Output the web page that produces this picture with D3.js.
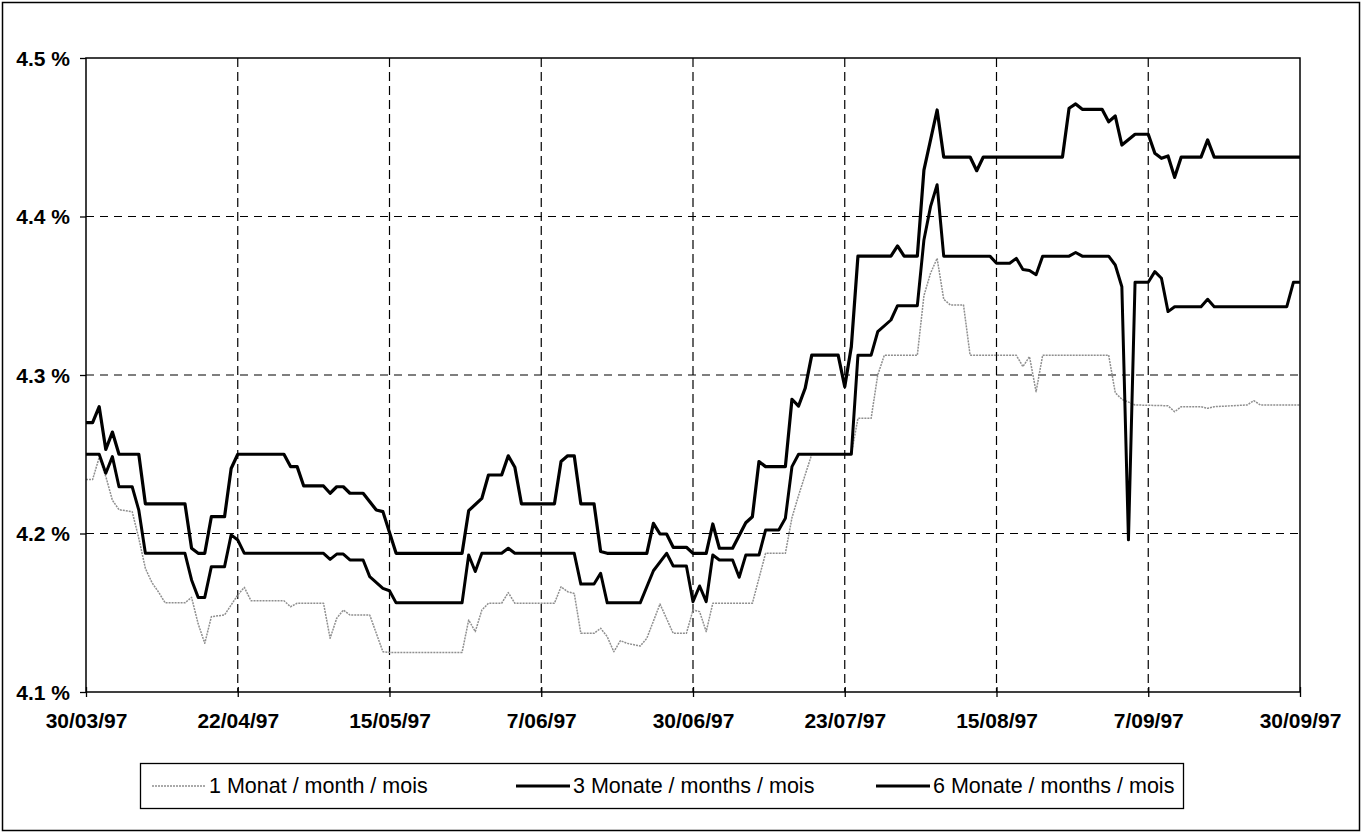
<!DOCTYPE html>
<html><head><meta charset="utf-8">
<script src="https://cdn.jsdelivr.net/npm/d3@7"></script>
<style>
body{margin:0;background:#fff}
text{font-family:"Liberation Sans",Arial,Helvetica,sans-serif;fill:#000}
</style>
</head><body>
<svg id="chart" width="1365" height="832"></svg>
<script>
// ---------- data ----------
const xTickLabels = ["30/03/97","22/04/97","15/05/97","7/06/97","30/06/97","23/07/97","15/08/97","7/09/97","30/09/97"];
const yTickValues = [4.1, 4.2, 4.3, 4.4, 4.5];
const seriesNames = ["1 Monat / month / mois", "3 Monate / months / mois", "6 Monate / months / mois"];

const oneMonth = [
["1997-03-30",4.234],["1997-03-31",4.234],["1997-04-01",4.248],["1997-04-02",4.236],["1997-04-03",4.221],
["1997-04-04",4.215],["1997-04-06",4.2138],["1997-04-07",4.197],["1997-04-08",4.178],["1997-04-09",4.169],
["1997-04-10",4.163],["1997-04-11",4.15625],["1997-04-14",4.15625],["1997-04-15",4.1597],["1997-04-16",4.143],
["1997-04-17",4.1307],["1997-04-18",4.1475],["1997-04-20",4.1486],["1997-04-21",4.1549],["1997-04-22",4.1612],
["1997-04-23",4.166],["1997-04-24",4.1576],["1997-04-29",4.1576],["1997-04-30",4.1538],["1997-05-01",4.156],
["1997-05-05",4.156],["1997-05-06",4.1339],["1997-05-07",4.1465],["1997-05-08",4.1517],["1997-05-09",4.1486],
["1997-05-12",4.1486],["1997-05-13",4.137],["1997-05-14",4.1254],["1997-05-15",4.125],["1997-05-26",4.125],
["1997-05-27",4.1454],["1997-05-28",4.1381],["1997-05-29",4.1517],["1997-05-30",4.156],["1997-06-01",4.156],
["1997-06-02",4.1627],["1997-06-03",4.156],["1997-06-09",4.156],["1997-06-10",4.1664],["1997-06-11",4.1633],
["1997-06-12",4.1622],["1997-06-13",4.137],["1997-06-15",4.137],["1997-06-16",4.1402],["1997-06-17",4.1349],
["1997-06-18",4.1254],["1997-06-19",4.1324],["1997-06-20",4.1307],["1997-06-22",4.129],["1997-06-23",4.1339],
["1997-06-25",4.1555],["1997-06-27",4.137],["1997-06-29",4.137],["1997-06-30",4.1517],["1997-07-01",4.1507],
["1997-07-02",4.1381],["1997-07-03",4.156],["1997-07-09",4.156],["1997-07-11",4.1875],["1997-07-14",4.1875],
["1997-07-15",4.21],["1997-07-16",4.224],["1997-07-18",4.25],["1997-07-24",4.25],["1997-07-25",4.2727],
["1997-07-27",4.2727],["1997-07-28",4.3],["1997-07-29",4.3125],["1997-08-03",4.3125],["1997-08-04",4.35],
["1997-08-05",4.3642],["1997-08-06",4.3736],["1997-08-07",4.3478],["1997-08-08",4.3442],["1997-08-10",4.3442],
["1997-08-11",4.3125],["1997-08-18",4.3125],["1997-08-19",4.3053],["1997-08-20",4.3116],["1997-08-21",4.2895],
["1997-08-22",4.3125],["1997-09-01",4.3125],["1997-09-02",4.2888],["1997-09-03",4.2847],["1997-09-05",4.2811],
["1997-09-10",4.2806],["1997-09-11",4.2768],["1997-09-12",4.28],["1997-09-15",4.28],["1997-09-16",4.279],
["1997-09-17",4.28],["1997-09-22",4.2811],["1997-09-23",4.2838],["1997-09-24",4.2811],["1997-09-30",4.2811]
];

const threeMonths = [
["1997-03-30",4.25],["1997-04-01",4.25],["1997-04-02",4.238],["1997-04-03",4.2485],["1997-04-04",4.2295],
["1997-04-06",4.2295],["1997-04-07",4.2148],["1997-04-08",4.1875],["1997-04-14",4.1875],["1997-04-15",4.1707],
["1997-04-16",4.1597],["1997-04-17",4.1597],["1997-04-18",4.1791],["1997-04-20",4.1791],["1997-04-21",4.1991],
["1997-04-22",4.1959],["1997-04-23",4.1875],["1997-05-05",4.1875],["1997-05-06",4.1837],["1997-05-07",4.187],
["1997-05-08",4.187],["1997-05-09",4.1833],["1997-05-11",4.1833],["1997-05-12",4.1728],["1997-05-14",4.1654],
["1997-05-15",4.1639],["1997-05-16",4.15625],["1997-05-26",4.15625],["1997-05-27",4.1864],["1997-05-28",4.176],
["1997-05-29",4.1875],["1997-06-01",4.1875],["1997-06-02",4.1907],["1997-06-03",4.1875],["1997-06-12",4.1875],
["1997-06-13",4.1681],["1997-06-15",4.1681],["1997-06-16",4.1749],["1997-06-17",4.15625],["1997-06-22",4.15625],
["1997-06-24",4.1765],["1997-06-26",4.1875],["1997-06-27",4.1795],["1997-06-29",4.1795],["1997-06-30",4.157],
["1997-07-01",4.1669],["1997-07-02",4.157],["1997-07-03",4.1864],["1997-07-04",4.1833],["1997-07-06",4.1833],
["1997-07-07",4.1724],["1997-07-08",4.1864],["1997-07-10",4.1864],["1997-07-11",4.2022],["1997-07-13",4.2022],
["1997-07-14",4.2096],["1997-07-15",4.2422],["1997-07-16",4.25],["1997-07-24",4.25],["1997-07-25",4.3125],
["1997-07-27",4.3125],["1997-07-28",4.3273],["1997-07-30",4.3347],["1997-07-31",4.34375],["1997-08-03",4.34375],
["1997-08-04",4.3852],["1997-08-05",4.4062],["1997-08-06",4.42],["1997-08-07",4.375],["1997-08-14",4.375],
["1997-08-15",4.3705],["1997-08-17",4.3705],["1997-08-18",4.3736],["1997-08-19",4.3665],["1997-08-20",4.366],
["1997-08-21",4.3633],["1997-08-22",4.375],["1997-08-26",4.375],["1997-08-27",4.3773],["1997-08-28",4.375],
["1997-09-01",4.375],["1997-09-02",4.3694],["1997-09-03",4.3557],["1997-09-04",4.196],["1997-09-05",4.3585],
["1997-09-07",4.3585],["1997-09-08",4.3652],["1997-09-09",4.361],["1997-09-10",4.34],["1997-09-11",4.3431],
["1997-09-15",4.3431],["1997-09-16",4.3478],["1997-09-17",4.3431],["1997-09-28",4.3431],["1997-09-29",4.3585],
["1997-09-30",4.3585]
];

const sixMonths = [
["1997-03-30",4.27],["1997-03-31",4.27],["1997-04-01",4.28],["1997-04-02",4.253],["1997-04-03",4.264],
["1997-04-04",4.25],["1997-04-07",4.25],["1997-04-08",4.21875],["1997-04-14",4.21875],["1997-04-15",4.1907],
["1997-04-16",4.1875],["1997-04-17",4.1875],["1997-04-18",4.2106],["1997-04-20",4.2106],["1997-04-21",4.241],
["1997-04-22",4.25],["1997-04-29",4.25],["1997-04-30",4.2422],["1997-05-01",4.2422],["1997-05-02",4.23],
["1997-05-05",4.23],["1997-05-06",4.2254],["1997-05-07",4.2295],["1997-05-08",4.2295],["1997-05-09",4.2254],
["1997-05-11",4.2254],["1997-05-13",4.2148],["1997-05-14",4.2138],["1997-05-16",4.1875],["1997-05-26",4.1875],
["1997-05-27",4.2144],["1997-05-29",4.2222],["1997-05-30",4.2369],["1997-06-01",4.2369],["1997-06-02",4.249],
["1997-06-03",4.2418],["1997-06-04",4.21875],["1997-06-09",4.21875],["1997-06-10",4.2454],["1997-06-11",4.249],
["1997-06-12",4.249],["1997-06-13",4.21875],["1997-06-15",4.21875],["1997-06-16",4.1886],["1997-06-17",4.1875],
["1997-06-23",4.1875],["1997-06-24",4.2064],["1997-06-25",4.1997],["1997-06-26",4.1997],["1997-06-27",4.1913],
["1997-06-29",4.1913],["1997-06-30",4.1875],["1997-07-02",4.1875],["1997-07-03",4.206],["1997-07-04",4.1907],
["1997-07-06",4.1907],["1997-07-08",4.2068],["1997-07-09",4.2106],["1997-07-10",4.2454],["1997-07-11",4.2422],
["1997-07-14",4.2422],["1997-07-15",4.2847],["1997-07-16",4.2804],["1997-07-17",4.2916],["1997-07-18",4.3125],
["1997-07-22",4.3125],["1997-07-23",4.2926],["1997-07-24",4.3179],["1997-07-25",4.375],["1997-07-30",4.375],
["1997-07-31",4.3814],["1997-08-01",4.375],["1997-08-03",4.375],["1997-08-04",4.4293],["1997-08-06",4.4672],
["1997-08-07",4.4375],["1997-08-11",4.4375],["1997-08-12",4.4289],["1997-08-13",4.4375],["1997-08-25",4.4375],
["1997-08-26",4.4683],["1997-08-27",4.471],["1997-08-28",4.4676],["1997-08-31",4.4676],["1997-09-01",4.4598],
["1997-09-02",4.4634],["1997-09-03",4.4451],["1997-09-05",4.4519],["1997-09-07",4.4519],["1997-09-08",4.4399],
["1997-09-09",4.4367],["1997-09-10",4.4382],["1997-09-11",4.4247],["1997-09-12",4.4375],["1997-09-15",4.4375],
["1997-09-16",4.4483],["1997-09-17",4.4375],["1997-09-30",4.4375]
];

// ---------- drawing ----------
const svg = d3.select("#chart");
const W = 1365, H = 832;
const plot = {left: 86, right: 1300, top: 58, bottom: 692};
const parseISO = d3.utcParse("%Y-%m-%d");
const parseTick = d3.utcParse("%d/%m/%y");
const tickDates = xTickLabels.map(parseTick);

const x = d3.scaleUtc().domain([tickDates[0], tickDates[tickDates.length - 1]]).range([plot.left, plot.right]);
const y = d3.scaleLinear().domain([4.1, 4.5]).range([plot.bottom, plot.top]);

// outer frame
svg.append("rect").attr("x", 2.5).attr("y", 2.5).attr("width", W - 8).attr("height", H - 4)
  .attr("fill", "#fff").attr("stroke", "#000").attr("stroke-width", 1.5);

// grid
const grid = svg.append("g").attr("stroke", "#000").attr("stroke-width", 1.2).attr("stroke-dasharray", "8,6");
grid.selectAll("line.h").data(yTickValues.slice(1, -1)).join("line")
  .attr("x1", plot.left).attr("x2", plot.right).attr("y1", d => y(d)).attr("y2", d => y(d));
grid.selectAll("line.v").data(tickDates.slice(1, -1)).join("line")
  .attr("y1", plot.top).attr("y2", plot.bottom).attr("x1", d => x(d)).attr("x2", d => x(d))
  .attr("stroke-dasharray", "9,5");

// axes
const yAxis = d3.axisLeft(y).tickValues(yTickValues).tickSize(6).tickPadding(10)
  .tickFormat(d => d3.format(".1f")(d) + " %");
const gy = svg.append("g").attr("transform", `translate(${plot.left},0)`).call(yAxis);
gy.select(".domain").remove();
gy.selectAll(".tick line").attr("stroke", "#000").attr("stroke-width", 1.3);
gy.selectAll(".tick text").attr("font-size", 21).attr("font-weight", "bold").attr("dy", "0.34em");

const xAxis = d3.axisBottom(x).tickValues(tickDates).tickSizeInner(5).tickSizeOuter(0).tickPadding(16)
  .tickFormat((d, i) => xTickLabels[i]);
const gx = svg.append("g").attr("transform", `translate(0,${plot.bottom})`).call(xAxis);
gx.select(".domain").remove();
gx.selectAll(".tick line").attr("stroke", "#000").attr("stroke-width", 1.3).attr("y1", -5);
gx.selectAll(".tick text").attr("font-size", 21).attr("font-weight", "bold");

// lines
const line = d3.line().x(d => x(parseISO(d[0]))).y(d => y(d[1]));
const styles = [
  {data: oneMonth, stroke: "#8f8f8f", width: 1.5, dash: "2,1"},
  {data: threeMonths, stroke: "#000", width: 3, dash: null},
  {data: sixMonths, stroke: "#000", width: 3.2, dash: null}
];
const lines = svg.append("g").attr("fill", "none").attr("stroke-linejoin", "round");
styles.forEach(s => {
  lines.append("path").datum(s.data).attr("d", line)
    .attr("stroke", s.stroke).attr("stroke-width", s.width).attr("stroke-dasharray", s.dash);
});

// plot frame
svg.append("rect").attr("x", plot.left).attr("y", plot.top)
  .attr("width", plot.right - plot.left).attr("height", plot.bottom - plot.top)
  .attr("fill", "none").attr("stroke", "#000").attr("stroke-width", 1.5);

// legend
const leg = svg.append("g");
leg.append("rect").attr("x", 140.5).attr("y", 763.5).attr("width", 1043).attr("height", 45)
  .attr("fill", "#fff").attr("stroke", "#000").attr("stroke-width", 1.3);
const legX = [152, 516, 876];
seriesNames.forEach((name, i) => {
  const s = styles[i];
  leg.append("line").attr("x1", legX[i]).attr("x2", legX[i] + 54).attr("y1", 786).attr("y2", 786)
    .attr("stroke", s.stroke).attr("stroke-width", s.width).attr("stroke-dasharray", s.dash);
  leg.append("text").attr("x", legX[i] + 57).attr("y", 793).attr("font-size", 21.5).text(name);
});
</script>
</body></html>
